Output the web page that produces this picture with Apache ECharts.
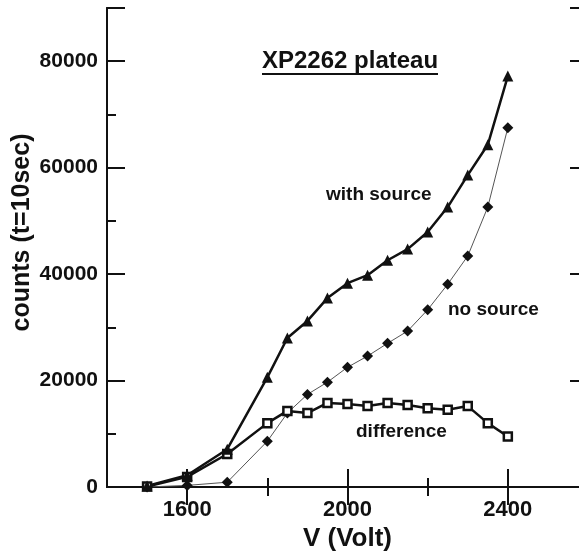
<!DOCTYPE html>
<html>
<head>
<meta charset="utf-8">
<script src="https://cdn.jsdelivr.net/npm/echarts@6/dist/echarts.min.js"></script>
<style>
    html, body { margin: 0; padding: 0; background: #fff; }
    #chart { width: 579px; height: 553px; }
</style>
</head>
<body>
<div id="chart"></div>
<script>
    // voltage steps
    const volts = [1500, 1600, 1700, 1800, 1850, 1900, 1950, 2000, 2050, 2100, 2150, 2200, 2250, 2300, 2350, 2400]
    const withSource = [200, 2200, 7100, 20600, 28000, 31200, 35500, 38300, 39800, 42600, 44700, 47900, 52600, 58600, 64300, 77200]
    const noSource = [0, 300, 900, 8600, 13900, 17400, 19700, 22500, 24600, 27000, 29300, 33300, 38100, 43400, 52600, 67500]
    const difference = [100, 1900, 6200, 12000, 14300, 13900, 15800, 15600, 15200, 15800, 15400, 14800, 14500, 15200, 12000, 9500]
    const xMajor = [1600, 2000, 2400]
    const xMinor = [1800, 2200]

    const font = '"Liberation Sans", Arial, sans-serif'
    const ink = '#111'

    const pairs = (vals) => volts.map((v, i) => [v, vals[i]])

    const chart = echarts.init(document.getElementById('chart'))

    // one x axis for major ticks, one for minor ones (bottom + top)
    const xAx = (pos, ticks, len, withLabels) => ({
        type: 'value',
        position: pos,
        min: 1400,
        max: 2600,
        axisLine: { show: true, lineStyle: { color: ink, width: 2 } },
        axisTick: { show: true, inside: true, length: len, customValues: ticks, lineStyle: { color: ink, width: 2 } },
        axisLabel: withLabels ? {
            show: true, customValues: ticks, margin: 12,
            color: ink, fontFamily: font, fontWeight: 'bold', fontSize: 22,
            formatter: (v) => String(v)
        } : { show: false },
        splitLine: { show: false }
    })
    const yAx = (pos, step, len, withLabels) => ({
        type: 'value',
        position: pos,
        min: 0,
        max: 90000,
        interval: step,
        axisLine: { show: true, lineStyle: { color: ink, width: 2 } },
        axisTick: { show: true, inside: true, length: len, lineStyle: { color: ink, width: 2 } },
        axisLabel: withLabels ? {
            show: true, margin: 9,
            color: ink, fontFamily: font, fontWeight: 'bold', fontSize: 21,
            formatter: (v) => v > 80000 ? '' : String(v)
        } : { show: false },
        splitLine: { show: false }
    })

    const xMain = xAx('bottom', xMajor, 18, true)
    xMain.name = 'V (Volt)'
    xMain.nameLocation = 'middle'
    xMain.nameGap = 38
    xMain.nameTextStyle = { color: ink, fontFamily: font, fontWeight: 'bold', fontSize: 26 }

    const yMain = yAx('left', 20000, 18, true)
    yMain.name = 'counts (t=10sec)'
    yMain.nameLocation = 'middle'
    yMain.nameGap = 72
    yMain.nameMoveOverlap = false
    yMain.nameTextStyle = { color: ink, fontFamily: font, fontWeight: 'bold', fontSize: 25, padding: [0, 0, 0, 30] }

    const option = {
        animation: false,
        backgroundColor: '#fff',
        grid: { left: 107, right: -9, top: 8, bottom: 66, containLabel: false, outerBoundsMode: 'none' },
        xAxis: [
            xMain,
            xAx('bottom', xMinor, 9, false),
            xAx('top', xMajor, 18, false),
            xAx('top', xMinor, 9, false)
        ],
        yAxis: [
            yMain,
            yAx('left', 10000, 9, false),
            yAx('right', 20000, 18, false),
            yAx('right', 10000, 9, false)
        ],
        graphic: [
            { type: 'text', left: 262, top: 49, style: { text: 'XP2262 plateau', fill: ink, font: 'bold 24px ' + font } },
            { type: 'line', shape: { x1: 262, y1: 74, x2: 438, y2: 74 }, style: { stroke: ink, lineWidth: 2 } },
            { type: 'text', left: 326, top: 185, style: { text: 'with source', fill: ink, font: 'bold 19px ' + font } },
            { type: 'text', left: 448, top: 300, style: { text: 'no source', fill: ink, font: 'bold 19px ' + font } },
            { type: 'text', left: 356, top: 422, style: { text: 'difference', fill: ink, font: 'bold 19px ' + font } }
        ],
        series: [
            {
                name: 'no source',
                type: 'line',
                data: pairs(noSource),
                symbol: 'diamond',
                symbolSize: 11,
                lineStyle: { color: '#555', width: 1 },
                itemStyle: { color: ink }
            },
            {
                name: 'difference',
                type: 'line',
                data: pairs(difference),
                symbol: 'rect',
                symbolSize: 8,
                lineStyle: { color: ink, width: 2.5 },
                itemStyle: { color: '#fff', borderColor: ink, borderWidth: 2.5 }
            },
            {
                name: 'with source',
                type: 'line',
                data: pairs(withSource),
                symbol: 'triangle',
                symbolSize: 11,
                lineStyle: { color: ink, width: 2.5 },
                itemStyle: { color: ink }
            }
        ]
    }
    chart.setOption(option)
</script>
</body>
</html>
